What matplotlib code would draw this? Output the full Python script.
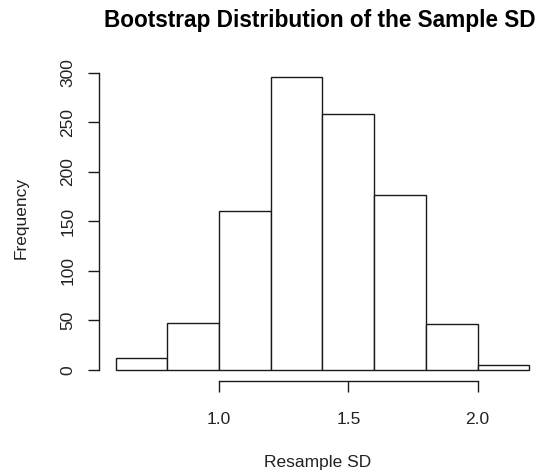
import matplotlib
matplotlib.use("Agg")
import matplotlib.pyplot as plt

bin_edges = [0.6, 0.8, 1.0, 1.2, 1.4, 1.6, 1.8, 2.0, 2.2]
counts = [12, 47, 160, 296, 258, 177, 46, 5]
x_ticks = [1.0, 1.5, 2.0]
x_tick_labels = ["1.0", "1.5", "2.0"]
y_ticks = [0, 50, 100, 150, 200, 250, 300]
y_tick_labels = ["0", "50", "100", "150", "200", "250", "300"]
title = "Bootstrap Distribution of the Sample SD"
xlabel = "Resample SD"
ylabel = "Frequency"

plt.rcParams['font.family'] = ['Liberation Sans', 'DejaVu Sans']

W, H = 543, 476
fig = plt.figure(figsize=(W / 100, H / 100), dpi=100)
left, right, top, bottom = 99.2, 545.8, 65.2, 381.4
ax = fig.add_axes([left / W, 1 - bottom / H, (right - left) / W, (bottom - top) / H])

widths = [bin_edges[i + 1] - bin_edges[i] for i in range(len(counts))]
ax.bar(bin_edges[:-1], counts, width=widths, align='edge',
       facecolor='white', edgecolor='#1a1a1a', linewidth=1.0)

xr = bin_edges[-1] - bin_edges[0]
ax.set_xlim(bin_edges[0] - 0.04 * xr, bin_edges[-1] + 0.04 * xr)
ymax = max(counts)
ax.set_ylim(-0.04 * ymax, ymax * 1.04)

for s in ['top', 'right']:
    ax.spines[s].set_visible(False)
ax.spines['left'].set_bounds(y_ticks[0], y_ticks[-1])
ax.spines['bottom'].set_bounds(x_ticks[0], x_ticks[-1])
for s in ['left', 'bottom']:
    ax.spines[s].set_color('#1a1a1a')
    ax.spines[s].set_linewidth(1.0)

ax.set_xticks(x_ticks)
ax.set_xticklabels(x_tick_labels, fontsize=12.5, color='#222222')
ax.set_yticks(y_ticks)
ax.set_yticklabels(y_tick_labels, fontsize=12.5, color='#222222', rotation=90, va='center')
ax.tick_params(axis='x', length=8, width=1.0, color='#1a1a1a', pad=14)
ax.tick_params(axis='y', length=8, width=1.0, color='#1a1a1a', pad=9)

fig.text(320 / W, 1 - 21 / H, title, ha='center', va='center', fontsize=16.3,
         fontweight='bold', color='black')
fig.text(318 / W, 1 - 462 / H, xlabel, ha='center', va='center', fontsize=12.5, color='#222222')
fig.text(21 / W, 1 - 218 / H, ylabel, ha='center', va='center', fontsize=12.5,
         rotation=90, color='#222222')

fig.savefig("out.png", dpi=100)
